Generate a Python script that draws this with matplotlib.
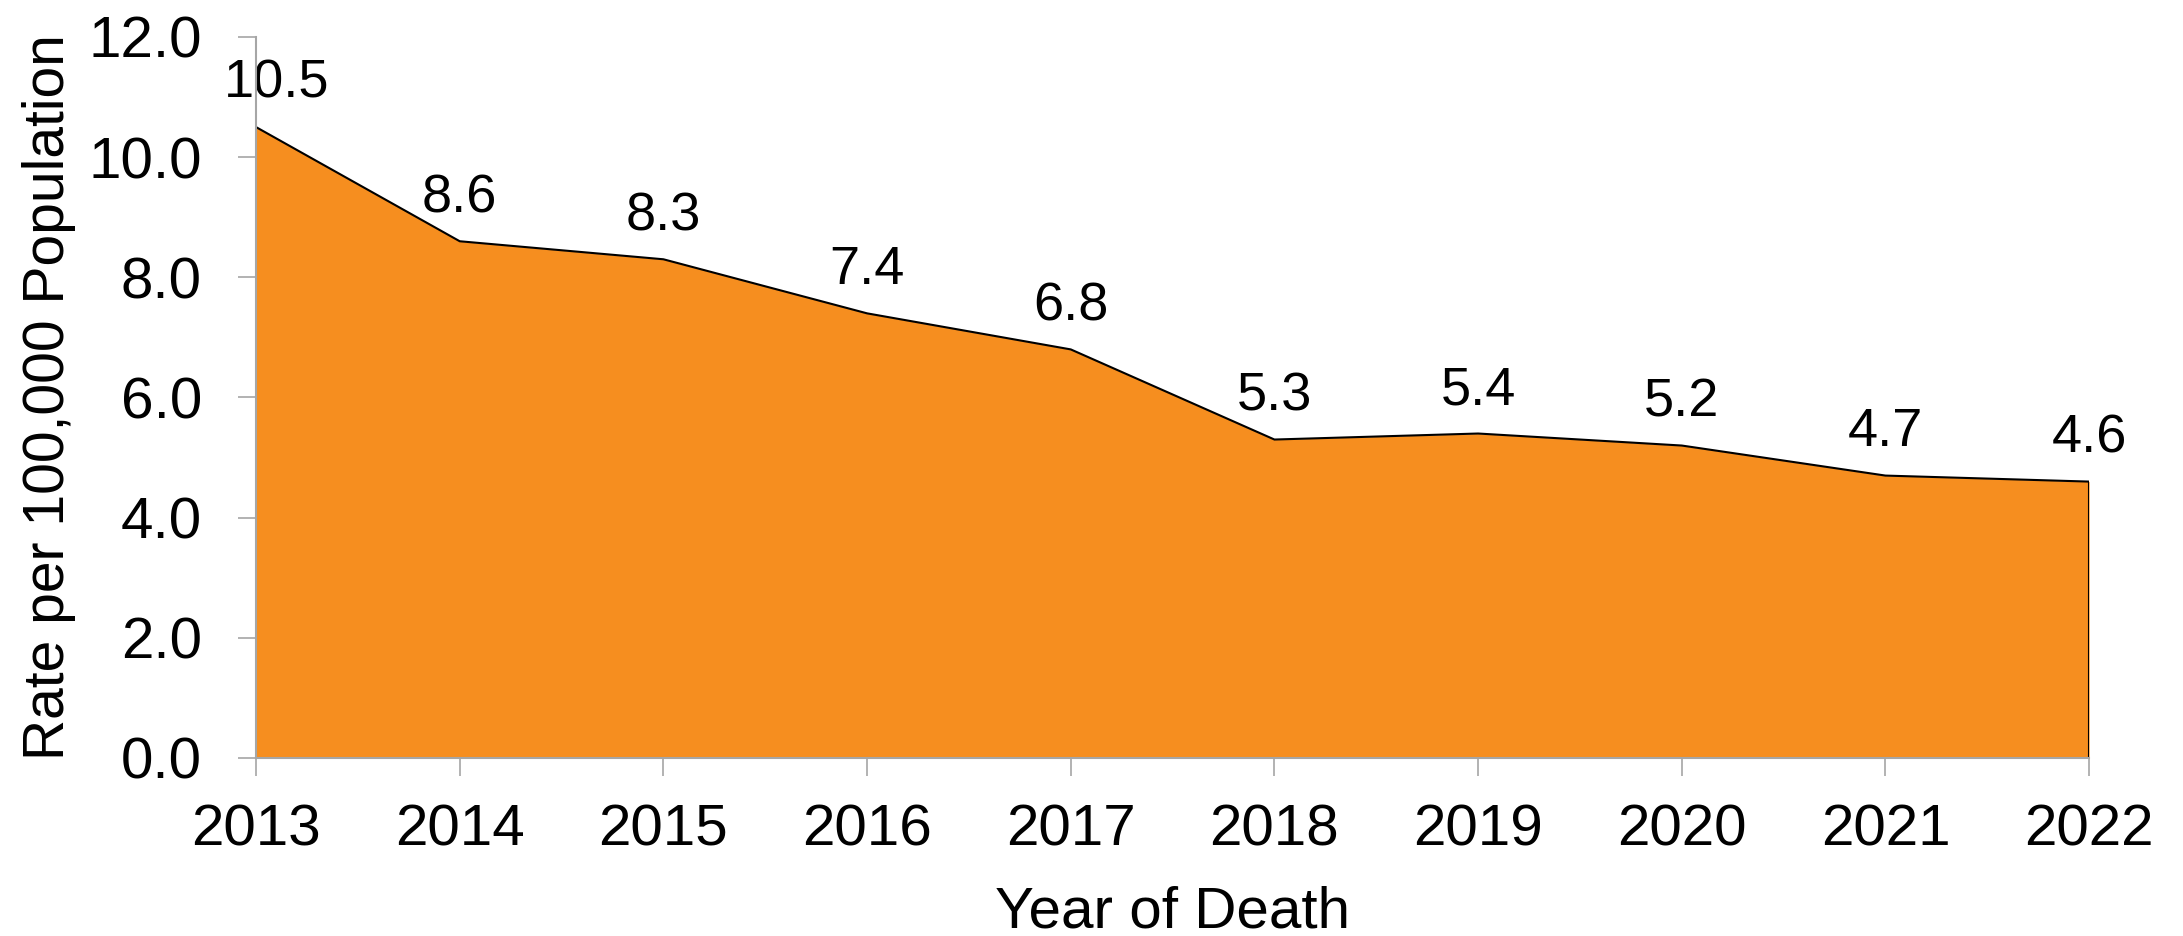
import matplotlib.pyplot as plt
import numpy as np

plt.rcParams['font.family'] = ['Liberation Sans', 'DejaVu Sans']

years = [2013, 2014, 2015, 2016, 2017, 2018, 2019, 2020, 2021, 2022]
rates = [10.5, 8.6, 8.3, 7.4, 6.8, 5.3, 5.4, 5.2, 4.7, 4.6]
yticks = [0.0, 2.0, 4.0, 6.0, 8.0, 10.0, 12.0]

ORANGE = '#F68E1F'
AXIS_GREY = '#A6A6A6'

fig = plt.figure(figsize=(21.83, 9.36), dpi=100)
ax = fig.add_axes([0.1173, 0.1902, 0.8397, 0.7703])

# filled area with a black outline along the top and the right edge
ax.fill_between(years, rates, 0, color=ORANGE, lw=0, zorder=1)
ax.plot(years, rates, color='black', lw=1.5, zorder=2, solid_joinstyle='miter')
ax.plot([years[-1], years[-1]], [0, rates[-1]], color='black', lw=1.5, zorder=2)

# value labels above each point; the first one nudged right to stay inside
for i, (x, y) in enumerate(zip(years, rates)):
    dx = 15 if i == 0 else 0
    ax.annotate(f'{y:.1f}', (x, y), xytext=(dx, 21), textcoords='offset points',
                ha='center', va='baseline', fontsize=39, color='black')

ax.set_xlim(years[0], years[-1])
ax.set_ylim(0, 12)
ax.set_xticks(years)
ax.set_xticklabels([str(y) for y in years])
ax.set_yticks(yticks)
ax.set_yticklabels([f'{v:.1f}' for v in yticks])

for side in ('top', 'right'):
    ax.spines[side].set_visible(False)
for side in ('left', 'bottom'):
    ax.spines[side].set_color(AXIS_GREY)
    ax.spines[side].set_linewidth(1.5)
    ax.spines[side].set_zorder(3)

ax.tick_params(axis='both', direction='out', length=13, width=1.2,
               color=AXIS_GREY, labelsize=42, labelcolor='black')
ax.tick_params(axis='y', pad=26)
ax.tick_params(axis='x', pad=20)

ax.set_xlabel('Year of Death', fontsize=42, labelpad=20)
ax.set_ylabel('Rate per 100,000 Population', fontsize=41, labelpad=9)

fig.savefig('out.png', dpi=100)
